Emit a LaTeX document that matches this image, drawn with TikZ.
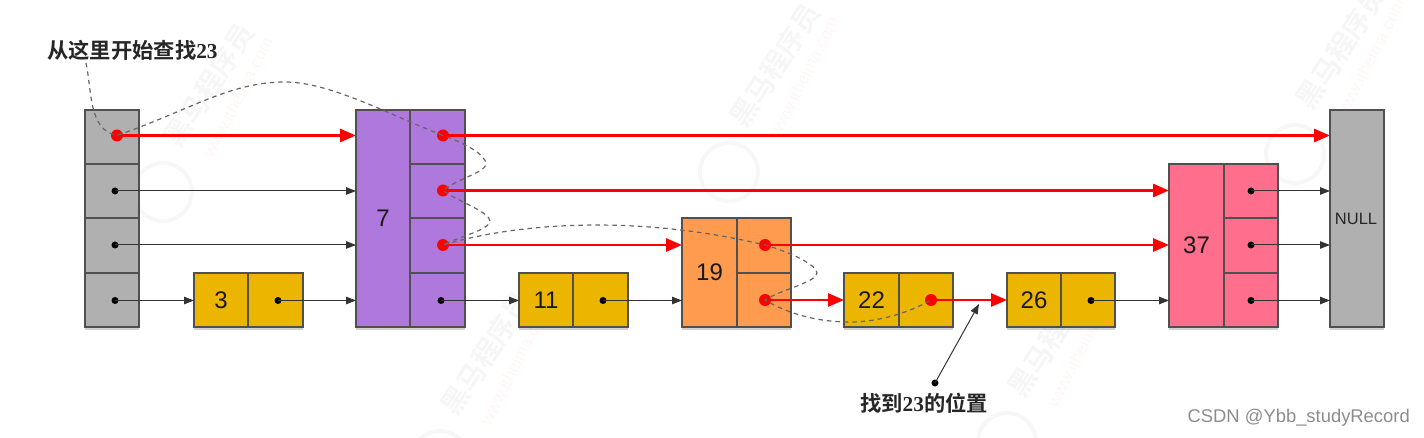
\documentclass[tikz,border=0pt]{standalone}
\usepackage{fontspec}
\setmainfont{Liberation Sans}
\newfontfamily\cjk{Noto Sans CJK SC}[BoldFont={Noto Sans CJK SC Bold}]
\newfontfamily\serifdigits{Liberation Serif}
\usetikzlibrary{arrows.meta,shadows,calc}
\definecolor{cgray}{HTML}{B0B0B0}
\definecolor{cpurple}{HTML}{AE78DC}
\definecolor{cgold}{HTML}{EBB500}
\definecolor{corange}{HTML}{FF9B4F}
\definecolor{cpink}{HTML}{FF6E8C}
\definecolor{cedge}{HTML}{505050}
\tikzset{
  cell/.style={draw=cedge,line width=1.3pt,inner sep=0pt,outer sep=0pt,anchor=north west,
    drop shadow={shadow xshift=0pt,shadow yshift=-3pt,opacity=.18,fill=black}},
  gray cell/.style={cell,fill=cgray},
  purple cell/.style={cell,fill=cpurple},
  gold cell/.style={cell,fill=cgold},
  orange cell/.style={cell,fill=corange},
  pink cell/.style={cell,fill=cpink},
  num/.style={font=\fontsize{24}{26}\selectfont,text=black!90},
  cnnote/.style={font=\fontsize{21.3}{24}\selectfont\cjk\bfseries,text=black!85,inner sep=0pt},
  bdot/.style={circle,fill=black,inner sep=0pt,minimum size=7pt},
  rdot/.style={circle,fill=red,inner sep=0pt,minimum size=12pt},
  blk/.style={line width=1pt,draw=black!80,-{Triangle[length=10pt,width=7.5pt]}},
  redl/.style={line width=2.8pt,draw=red,-{Triangle[length=16pt,width=13pt,fill=red]}},
  trail/.style={line width=1.2pt,draw=black!60,dash pattern=on 4.5pt off 4pt},
  wm cn/.style={text=black!3.5,font=\fontsize{28}{28}\selectfont\cjk\bfseries,rotate=57,inner sep=0pt},
  wm url/.style={text=red!3.5,font=\fontsize{17}{17}\selectfont,rotate=63,inner sep=0pt},
  wm ring/.style={draw=black!3,line width=4pt},
}
\begin{document}
\begin{tikzpicture}[x=1pt,y=-1pt]
\useasboundingbox (0,0) rectangle (1424,438);
% faint watermark
\begin{scope}
\clip (0,0) rectangle (1424,438);
\foreach \cx/\cy/\i in {163/192/a,729/172/b,1295/154/c,440/460/d,1007/442/e}{
  \node[wm ring,circle,minimum size=58pt,inner sep=0pt] (wr\i) at (\cx,\cy) {};
  \node[wm cn] (wc\i) at ({\cx+46},{\cy-107}) {黑马程序员};
  \node[wm url] (wu\i) at ({\cx+75},{\cy-95}) {www.itheima.com};
}
\end{scope}
% head column
\node[gray cell,minimum width=54pt,minimum height=54pt] (h1) at (85,110) {};
\node[gray cell,minimum width=54pt,minimum height=54pt] (h2) at (85,164) {};
\node[gray cell,minimum width=54pt,minimum height=55pt] (h3) at (85,218) {};
\node[gray cell,minimum width=54pt,minimum height=54pt] (h4) at (85,273) {};
% 3
\node[gold cell,minimum width=54pt,minimum height=54pt,num] (a3) at (194,273) {3};
\node[gold cell,minimum width=55pt,minimum height=54pt] (a3p) at (248,273) {};
% 7
\node[purple cell,minimum width=54pt,minimum height=217pt,num] (a7) at (356,110) {7};
\node[purple cell,minimum width=55pt,minimum height=54pt] (a7a) at (410,110) {};
\node[purple cell,minimum width=55pt,minimum height=54pt] (a7b) at (410,164) {};
\node[purple cell,minimum width=55pt,minimum height=55pt] (a7c) at (410,218) {};
\node[purple cell,minimum width=55pt,minimum height=54pt] (a7d) at (410,273) {};
% 11
\node[gold cell,minimum width=54pt,minimum height=54pt,num] (a11) at (519,273) {11};
\node[gold cell,minimum width=55pt,minimum height=54pt] (a11p) at (573,273) {};
% 19
\node[orange cell,minimum width=55pt,minimum height=109pt,num] (a19) at (682,218) {19};
\node[orange cell,minimum width=54pt,minimum height=55pt] (a19a) at (737,218) {};
\node[orange cell,minimum width=54pt,minimum height=54pt] (a19b) at (737,273) {};
% 22
\node[gold cell,minimum width=55pt,minimum height=54pt,num] (a22) at (844,273) {22};
\node[gold cell,minimum width=54pt,minimum height=54pt] (a22p) at (899,273) {};
% 26
\node[gold cell,minimum width=54pt,minimum height=54pt,num] (a26) at (1007,273) {26};
\node[gold cell,minimum width=54pt,minimum height=54pt] (a26p) at (1061,273) {};
% 37
\node[pink cell,minimum width=55pt,minimum height=163pt,num] (a37) at (1169,164) {37};
\node[pink cell,minimum width=54pt,minimum height=54pt] (a37a) at (1224,164) {};
\node[pink cell,minimum width=54pt,minimum height=55pt] (a37b) at (1224,218) {};
\node[pink cell,minimum width=54pt,minimum height=54pt] (a37c) at (1224,273) {};
% NULL
\node[gray cell,minimum width=54pt,minimum height=217pt] (nul) at (1330,110) {};
\node[font=\fontsize{16.5}{18}\selectfont,text=black!85,inner sep=0pt] (nulltext) at (1356,219) {NULL};
% pointer dots
\node[rdot] (d1) at (117,135.5) {};
\node[bdot] (d2) at (115,191) {};
\node[bdot] (d3) at (115,245) {};
\node[bdot] (d4) at (115,300.5) {};
\node[bdot] (d3p) at (278,300.5) {};
\node[rdot] (d7a) at (443,135.5) {};
\node[rdot] (d7b) at (443,190.5) {};
\node[rdot] (d7c) at (443,245) {};
\node[bdot] (d7d) at (441,300.5) {};
\node[bdot] (d11) at (603,300.5) {};
\node[rdot] (d19a) at (765,245) {};
\node[rdot] (d19b) at (765,300) {};
\node[rdot] (d22) at (931,300) {};
\node[bdot] (d26) at (1091,300.5) {};
\node[bdot] (d37a) at (1251,191) {};
\node[bdot] (d37b) at (1251,245) {};
\node[bdot] (d37c) at (1251,300.5) {};
% black links
\draw[blk] (d2.center) -- (d2.center -| a7.west);
\draw[blk] (d3.center) -- (d3.center -| a7.west);
\draw[blk] (d4.center) -- (d4.center -| a3.west);
\draw[blk] (d3p.center) -- (d3p.center -| a7.west);
\draw[blk] (d7d.center) -- (d7d.center -| a11.west);
\draw[blk] (d11.center) -- (d11.center -| a19.west);
\draw[blk] (d26.center) -- (d26.center -| a37.west);
\draw[blk] (d37a.center) -- (d37a.center -| nul.west);
\draw[blk] (d37b.center) -- (d37b.center -| nul.west);
\draw[blk] (d37c.center) -- (d37c.center -| nul.west);
% red links
\draw[redl] (d1.center) -- (d1.center -| a7.west);
\draw[redl] (d7a.center) -- (d7a.center -| nul.west);
\draw[redl] (d7b.center) -- (d7b.center -| a37.west);
\draw[redl] (d7c.center) -- (d7c.center -| a19.west);
\draw[redl] (d19a.center) -- (d19a.center -| a37.west);
\draw[redl] (d19b.center) -- (d19b.center -| a22.west);
\draw[redl] (d22.center) -- (d22.center -| a26.west);
% labels
\node[cnnote,anchor=west] (start) at (47,50) {从这里开始查找{\serifdigits\bfseries 23}};
\node[cnnote] (found) at (924,403) {找到{\serifdigits\bfseries 23}的位置};
\node[text=black!45,font=\fontsize{18.4}{20}\selectfont,anchor=east,inner sep=0pt] (credit) at (1410,418) {CSDN @Ybb\_studyRecord};
% search trail
\coordinate (trail0) at (86,63);
\draw[trail] (trail0) .. controls (92,90) and (88,130) .. (d1.center)
  .. controls (190,110) and (230,82) .. (285,82)
  .. controls (330,82) and (390,115) .. (d7a.center)
  .. controls (465,143) and (486,155) .. (486,164)
  .. controls (486,172) and (455,180) .. (d7b.center)
  .. controls (455,200) and (490,212) .. (490,221)
  .. controls (490,230) and (455,238) .. (d7c.center)
  .. controls (520,222) and (640,215) .. (d19a.center)
  .. controls (790,252) and (817,265) .. (817,273)
  .. controls (817,282) and (780,290) .. (d19b.center)
  .. controls (790,315) and (820,322) .. (850,322)
  .. controls (880,322) and (910,312) .. (d22.center);
% found pointer
\node[bdot] (fd) at (935,383) {};
\coordinate (ft) at (979,304);
\draw[blk] (fd.center) -- (ft);
\end{tikzpicture}
\end{document}
